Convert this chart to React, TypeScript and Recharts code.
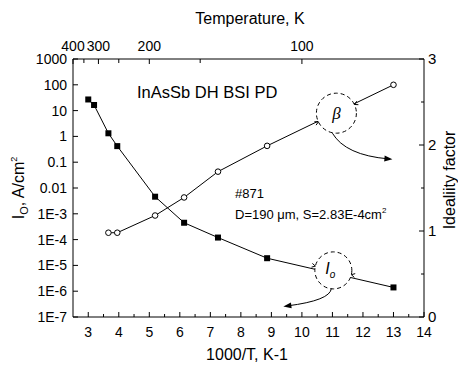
import React from "react";
import { LineChart, Line, XAxis, YAxis, ReferenceDot } from "recharts";

// I0 (filled squares, left log axis)
const ioInvT = [3.0, 3.19, 3.66, 3.95, 5.19, 6.14, 7.25, 8.86, 13.0];
const ioValues = [27, 16.5, 1.32, 0.42, 0.0046, 0.00045, 0.00012, 0.000019, 0.0000014];

// ideality factor (open circles, right axis)
const betaInvT = [3.66, 3.95, 5.19, 6.14, 7.25, 8.86, 13.0];
const betaValues = [0.98, 0.98, 1.18, 1.39, 1.69, 1.99, 2.7];

const xTicks = [3, 3.5, 4, 4.5, 5, 5.5, 6, 6.5, 7, 7.5, 8, 8.5, 9, 9.5, 10, 10.5, 11, 11.5, 12, 12.5, 13, 13.5, 14];
const tempTicks = [400, 350, 300, 250, 200, 150, 100];
const tempLabels = [400, 300, 200, 100];
const logTicks = [1e-7, 1e-6, 1e-5, 1e-4, 1e-3, 0.01, 0.1, 1, 10, 100, 1000];
const logLabels = ["1E-7", "1E-6", "1E-5", "1E-4", "1E-3", "0.01", "0.1", "1", "10", "100", "1000"];
const rightTicks = [0, 0.5, 1, 1.5, 2, 2.5, 3];

// annotation circle centres (data coords)
const betaMark = { x: 11.13, y: 2.37 };
const ioMark = { x: 11.03, y: 6.4e-6 };

const ioData = ioInvT.map((x, i) => ({ x, io: ioValues[i] }));
const betaData = betaInvT.map((x, i) => ({ x, beta: betaValues[i] }));

const font = "'Liberation Sans', Arial, Helvetica, sans-serif";
const tickFont = 14;

const BottomTick = (props: any) => {
  const { x, y, payload } = props;
  const v = payload.value;
  const major = Number.isInteger(v);
  return (
    <g>
      <line x1={x} x2={x} y1={y} y2={y - (major ? 5 : 3)} stroke="#000" />
      {major && (
        <text x={x} y={y + 20} textAnchor="middle" fontSize={tickFont} fontFamily={font} fill="#000">
          {v}
        </text>
      )}
    </g>
  );
};

const TopTick = (props: any) => {
  const { x, y, payload } = props;
  const t = Math.round(1000 / payload.value);
  const major = tempLabels.includes(t);
  return (
    <g>
      <line x1={x} x2={x} y1={y} y2={y + (major ? 5 : 4)} stroke="#000" />
      {major && (
        <text x={x} y={y - 8} textAnchor="middle" fontSize={tickFont} fontFamily={font} fill="#000">
          {t}
        </text>
      )}
    </g>
  );
};

const LeftTick = (props: any) => {
  const { x, y, payload } = props;
  const idx = Math.round(Math.log10(payload.value)) + 7;
  return (
    <g>
      <line x1={x} x2={x + 5} y1={y} y2={y} stroke="#000" />
      <text x={x - 6} y={y + 5} textAnchor="end" fontSize={tickFont} fontFamily={font} fill="#000">
        {logLabels[idx]}
      </text>
    </g>
  );
};

const RightTick = (props: any) => {
  const { x, y, payload } = props;
  const v = payload.value;
  const major = Number.isInteger(v);
  return (
    <g>
      <line x1={x} x2={x - (major ? 5 : 3)} y1={y} y2={y} stroke="#000" />
      {major && (
        <text x={x + 4} y={y + 5} textAnchor="start" fontSize={15} fontFamily={font} fill="#000">
          {v}
        </text>
      )}
    </g>
  );
};

const SquareDot = (props: any) => {
  const { cx, cy, index } = props;
  return <rect key={`sq-${index}`} x={cx - 3} y={cy - 3} width={6} height={6} fill="#000" />;
};

const CircleDot = (props: any) => {
  const { cx, cy, index } = props;
  return <circle key={`ci-${index}`} cx={cx} cy={cy} r={2.8} fill="#fff" stroke="#000" strokeWidth={1} />;
};

const arrowHead = (ex: number, ey: number, cx: number, cy: number) => {
  const a = Math.atan2(ey - cy, ex - cx);
  const len = 8;
  const w = 3;
  const bx = ex - len * Math.cos(a);
  const by = ey - len * Math.sin(a);
  const px = -Math.sin(a) * w;
  const py = Math.cos(a) * w;
  return `${ex},${ey} ${bx + px},${by + py} ${bx - px},${by - py}`;
};

// small open arrowheads where the connecting line meets a dashed circle
const edgeMarks = (cx: number, cy: number, r: number, angDeg: number) => {
  const a = (angDeg * Math.PI) / 180;
  const ux = Math.cos(a);
  const uy = Math.sin(a);
  const mk = (px: number, py: number, dx: number, dy: number) => {
    const b = Math.atan2(dy, dx);
    const l = 4;
    const s = 0.5;
    const x1 = px - l * Math.cos(b - s);
    const y1 = py - l * Math.sin(b - s);
    const x2 = px - l * Math.cos(b + s);
    const y2 = py - l * Math.sin(b + s);
    return `M${x1},${y1} L${px},${py} L${x2},${y2}`;
  };
  const d1 = mk(cx - r * ux, cy - r * uy, ux, uy);
  const d2 = mk(cx + r * ux, cy + r * uy, -ux, -uy);
  return <path d={`${d1} ${d2}`} fill="none" stroke="#000" />;
};

const BetaMark = (props: any) => {
  const { cx, cy } = props;
  const s = { x: cx - 4, y: cy + 20 };
  const c = { x: cx + 9, y: cy + 42 };
  const e = { x: cx + 56, y: cy + 46 };
  return (
    <g>
      <circle cx={cx} cy={cy} r={20} fill="#fff" stroke="#000" strokeDasharray="4 3" />
      {edgeMarks(cx, cy, 20, -25.8)}
      <text x={cx} y={cy + 6} textAnchor="middle" fontSize={17} fontStyle="italic" fontFamily="'Liberation Serif', 'Times New Roman', serif" fill="#000">
        β
      </text>
      <path d={`M${s.x},${s.y} Q${c.x},${c.y} ${e.x - 4},${e.y - 0.3}`} fill="none" stroke="#000" />
      <polygon points={arrowHead(e.x, e.y, c.x, c.y)} fill="#000" />
    </g>
  );
};

const IoMark = (props: any) => {
  const { cx, cy } = props;
  const s = { x: cx - 2, y: cy + 18 };
  const c = { x: cx - 3, y: cy + 30 };
  const e = { x: cx - 50, y: cy + 36 };
  return (
    <g>
      <circle cx={cx} cy={cy} r={18.5} fill="#fff" stroke="#000" strokeDasharray="4 3" />
      {edgeMarks(cx, cy, 18.5, 13.4)}
      <text x={cx - 3} y={cy + 4} textAnchor="middle" fontSize={16} fontStyle="italic" fontFamily={font} fill="#000">
        I
        <tspan fontSize={10} dy={4}>o</tspan>
      </text>
      <path d={`M${s.x},${s.y} Q${c.x},${c.y} ${e.x + 4},${e.y - 0.5}`} fill="none" stroke="#000" />
      <polygon points={arrowHead(e.x, e.y, c.x, c.y)} fill="#000" />
    </g>
  );
};

export default function App() {
  return (
    <div style={{ position: "absolute", left: 0, top: 0, width: 458, height: 365, background: "#fff" }}>
      <LineChart width={458} height={365} margin={{ top: 0, right: 0, bottom: 0, left: 0 }}>
        <XAxis
          xAxisId="bottom"
          dataKey="x"
          type="number"
          domain={[2.5, 14]}
          ticks={xTicks}
          interval={0}
          allowDataOverflow
          height={48}
          tickSize={0}
          tickMargin={0}
          tickLine={false}
          axisLine={{ stroke: "#000" }}
          tick={BottomTick}
        />
        <XAxis
          xAxisId="top"
          dataKey="x"
          orientation="top"
          type="number"
          domain={[2.5, 14]}
          ticks={tempTicks.map((t) => 1000 / t)}
          interval={0}
          allowDataOverflow
          height={59}
          tickSize={0}
          tickMargin={0}
          tickLine={false}
          axisLine={{ stroke: "#000" }}
          tick={TopTick}
        />
        <YAxis
          yAxisId="left"
          type="number"
          scale="log"
          domain={[1e-7, 1000]}
          ticks={logTicks}
          interval={0}
          allowDataOverflow
          width={73}
          tickSize={0}
          tickMargin={0}
          tickLine={false}
          axisLine={{ stroke: "#000" }}
          tick={LeftTick}
        />
        <YAxis
          yAxisId="right"
          orientation="right"
          type="number"
          domain={[0, 3]}
          ticks={rightTicks}
          interval={0}
          allowDataOverflow
          width={34}
          tickSize={0}
          tickMargin={0}
          tickLine={false}
          axisLine={{ stroke: "#000" }}
          tick={RightTick}
        />
        {/* invisible series so the temperature axis gets its ticks */}
        <Line
          data={betaData}
          dataKey="beta"
          xAxisId="top"
          yAxisId="right"
          stroke="none"
          dot={false}
          activeDot={false}
          legendType="none"
          isAnimationActive={false}
        />
        <Line
          data={ioData}
          dataKey="io"
          xAxisId="bottom"
          yAxisId="left"
          type="linear"
          stroke="#000"
          strokeWidth={1}
          dot={SquareDot}
          activeDot={false}
          isAnimationActive={false}
        />
        <Line
          data={betaData}
          dataKey="beta"
          xAxisId="bottom"
          yAxisId="right"
          type="linear"
          stroke="#000"
          strokeWidth={1}
          dot={CircleDot}
          activeDot={false}
          isAnimationActive={false}
        />
        <ReferenceDot xAxisId="bottom" yAxisId="right" x={betaMark.x} y={betaMark.y} r={20} shape={BetaMark} />
        <ReferenceDot xAxisId="bottom" yAxisId="left" x={ioMark.x} y={ioMark.y} r={18} shape={IoMark} />
      </LineChart>
      <svg
        width={458}
        height={365}
        style={{ position: "absolute", left: 0, top: 0, pointerEvents: "none" }}
        fontFamily={font}
        fill="#000"
      >
        <text x={250} y={24} textAnchor="middle" fontSize={16}>
          Temperature, K
        </text>
        <text x={247} y={360} textAnchor="middle" fontSize={16}>
          1000/T, K-1
        </text>
        <text transform="translate(24,188) rotate(-90)" textAnchor="middle" fontSize={16}>
          I<tspan fontSize={11} dy={4}>O</tspan>
          <tspan dy={-4}>, A/cm</tspan>
          <tspan fontSize={9} dy={-7}>2</tspan>
        </text>
        <text transform="translate(455,180) rotate(-90)" textAnchor="middle" fontSize={16}>
          Idealiity factor
        </text>
        <text x={137} y={98} fontSize={16.5}>
          InAsSb DH BSI PD
        </text>
        <text x={235} y={198} fontSize={13}>
          #871
        </text>
        <text x={235} y={219} fontSize={13}>
          D=190 μm, S=2.83E-4cm<tspan fontSize={8} dy={-6}>2</tspan>
        </text>
      </svg>
    </div>
  );
}
